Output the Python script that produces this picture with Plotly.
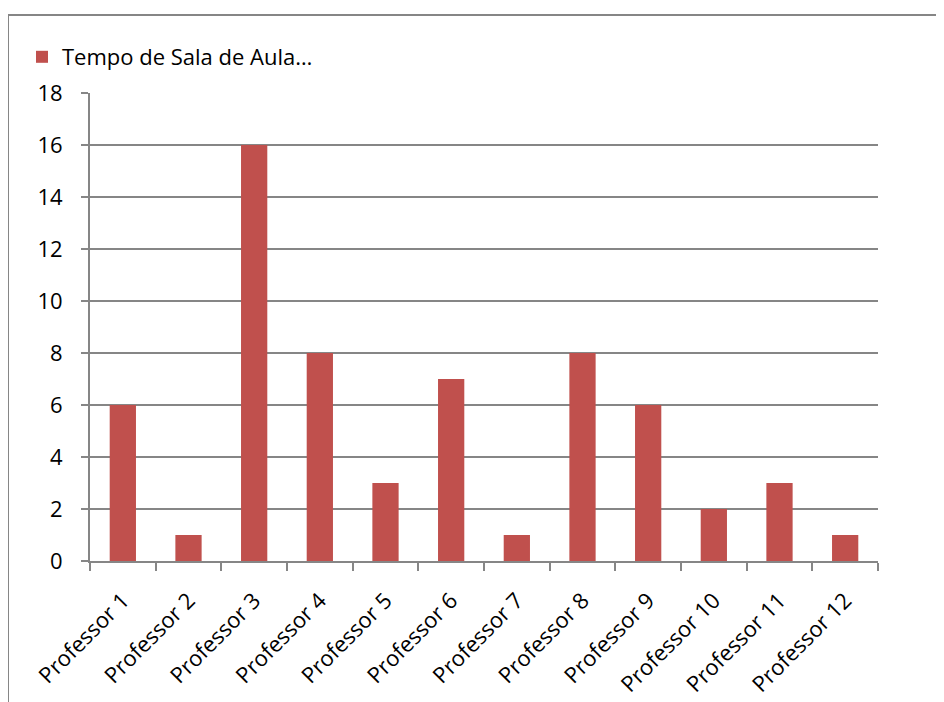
import plotly.graph_objects as go

categories = ["Professor 1", "Professor 2", "Professor 3", "Professor 4", "Professor 5", "Professor 6",
              "Professor 7", "Professor 8", "Professor 9", "Professor 10", "Professor 11", "Professor 12"]
values = [6, 1, 16, 8, 3, 7, 1, 8, 6, 2, 3, 1]
series_name = "Tempo de Sala de Aula…"
y_ticks = [0, 2, 4, 6, 8, 10, 12, 14, 16, 18]

W, H = 936, 694
L, T = 82, 85
pw, ph = 788, 468
R, B = W - L - pw, H - T - ph
grid = "#868686"
font = "'Open Sans', sans-serif"
fs = 22

fig = go.Figure()
fig.add_trace(go.Bar(x=categories, y=values, name=series_name, marker_color="#C0504D",
                     marker_line_width=0, showlegend=True))

fig.update_layout(
    width=W, height=H,
    margin=dict(l=L, r=R, t=T, b=B, autoexpand=False),
    paper_bgcolor="white", plot_bgcolor="white",
    bargap=0.6,
    font=dict(family=font, size=fs, color="black"),
    showlegend=True,
    legend=dict(x=(14 - L) / pw, y=(T + ph - 49) / ph, xanchor="left", yanchor="middle",
                bgcolor="rgba(0,0,0,0)", font=dict(size=fs), itemwidth=30),
    xaxis=dict(type="category", tickson="boundaries", ticks="outside", ticklen=8, tickcolor=grid,
               tickwidth=2, showline=True, linecolor=grid, linewidth=2, showgrid=False,
               tickangle=-45, tickfont=dict(size=fs), ticklabelstandoff=16),
    yaxis=dict(range=[0, 18], tickvals=y_ticks, ticks="outside", ticklen=7, tickcolor=grid,
               tickwidth=2, showline=True, linecolor=grid, linewidth=2, showgrid=True,
               gridcolor=grid, gridwidth=2, zeroline=False, tickfont=dict(size=fs),
               ticklabelstandoff=14),
)

# outer chart frame (top and left edges visible)
fig.add_shape(type="rect", xref="paper", yref="paper",
              x0=(0 - L) / pw, x1=(W + 20 - L) / pw,
              y0=(T + ph - (H + 20)) / ph, y1=(T + ph - 7) / ph,
              line=dict(color=grid, width=2), fillcolor="rgba(0,0,0,0)", layer="below")

fig.write_html("out.html")
